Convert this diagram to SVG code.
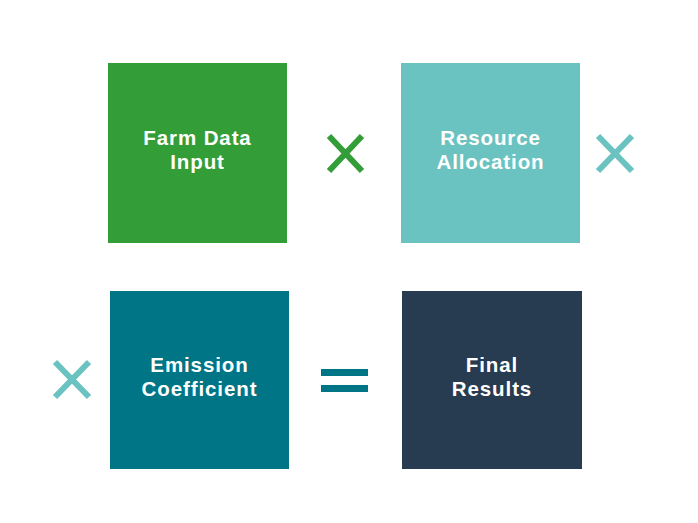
<svg xmlns="http://www.w3.org/2000/svg" width="698" height="523" viewBox="0 0 698 523">
<style>
.lbl{font-family:"Liberation Sans",Arial,sans-serif;font-weight:bold;font-size:20.5px;fill:#ffffff;text-anchor:middle;letter-spacing:0.9px}
.x{stroke-width:6;stroke-linecap:butt;fill:none}
</style>
<rect width="698" height="523" fill="#ffffff"/>
<g id="farm-data-input">
<rect x="108" y="63" width="179" height="180" fill="#339e37"/>
<text class="lbl" x="197.5" y="145">Farm Data</text>
<text class="lbl" x="197.5" y="169">Input</text>
</g>
<g id="resource-allocation">
<rect x="401" y="63" width="179" height="180" fill="#6ac3c0"/>
<text class="lbl" x="490.5" y="145">Resource</text>
<text class="lbl" x="490.5" y="169">Allocation</text>
</g>
<g id="emission-coefficient">
<rect x="110" y="291" width="179" height="178" fill="#007585"/>
<text class="lbl" x="199.5" y="372">Emission</text>
<text class="lbl" x="199.5" y="396">Coefficient</text>
</g>
<g id="final-results">
<rect x="402" y="291" width="180" height="178" fill="#273b51"/>
<text class="lbl" x="492" y="372">Final</text>
<text class="lbl" x="492" y="396">Results</text>
</g>
<g id="operators">
<path class="x" stroke="#339e37" d="M329 136L362 171M362 136L329 171"/>
<path class="x" stroke="#6ac3c0" d="M598 136L632 171M632 136L598 171"/>
<path class="x" stroke="#6ac3c0" d="M55 362L89 397M89 362L55 397"/>
<rect x="321" y="369" width="47" height="7" fill="#007585"/>
<rect x="321" y="385" width="47" height="7" fill="#007585"/>
</g>
</svg>
